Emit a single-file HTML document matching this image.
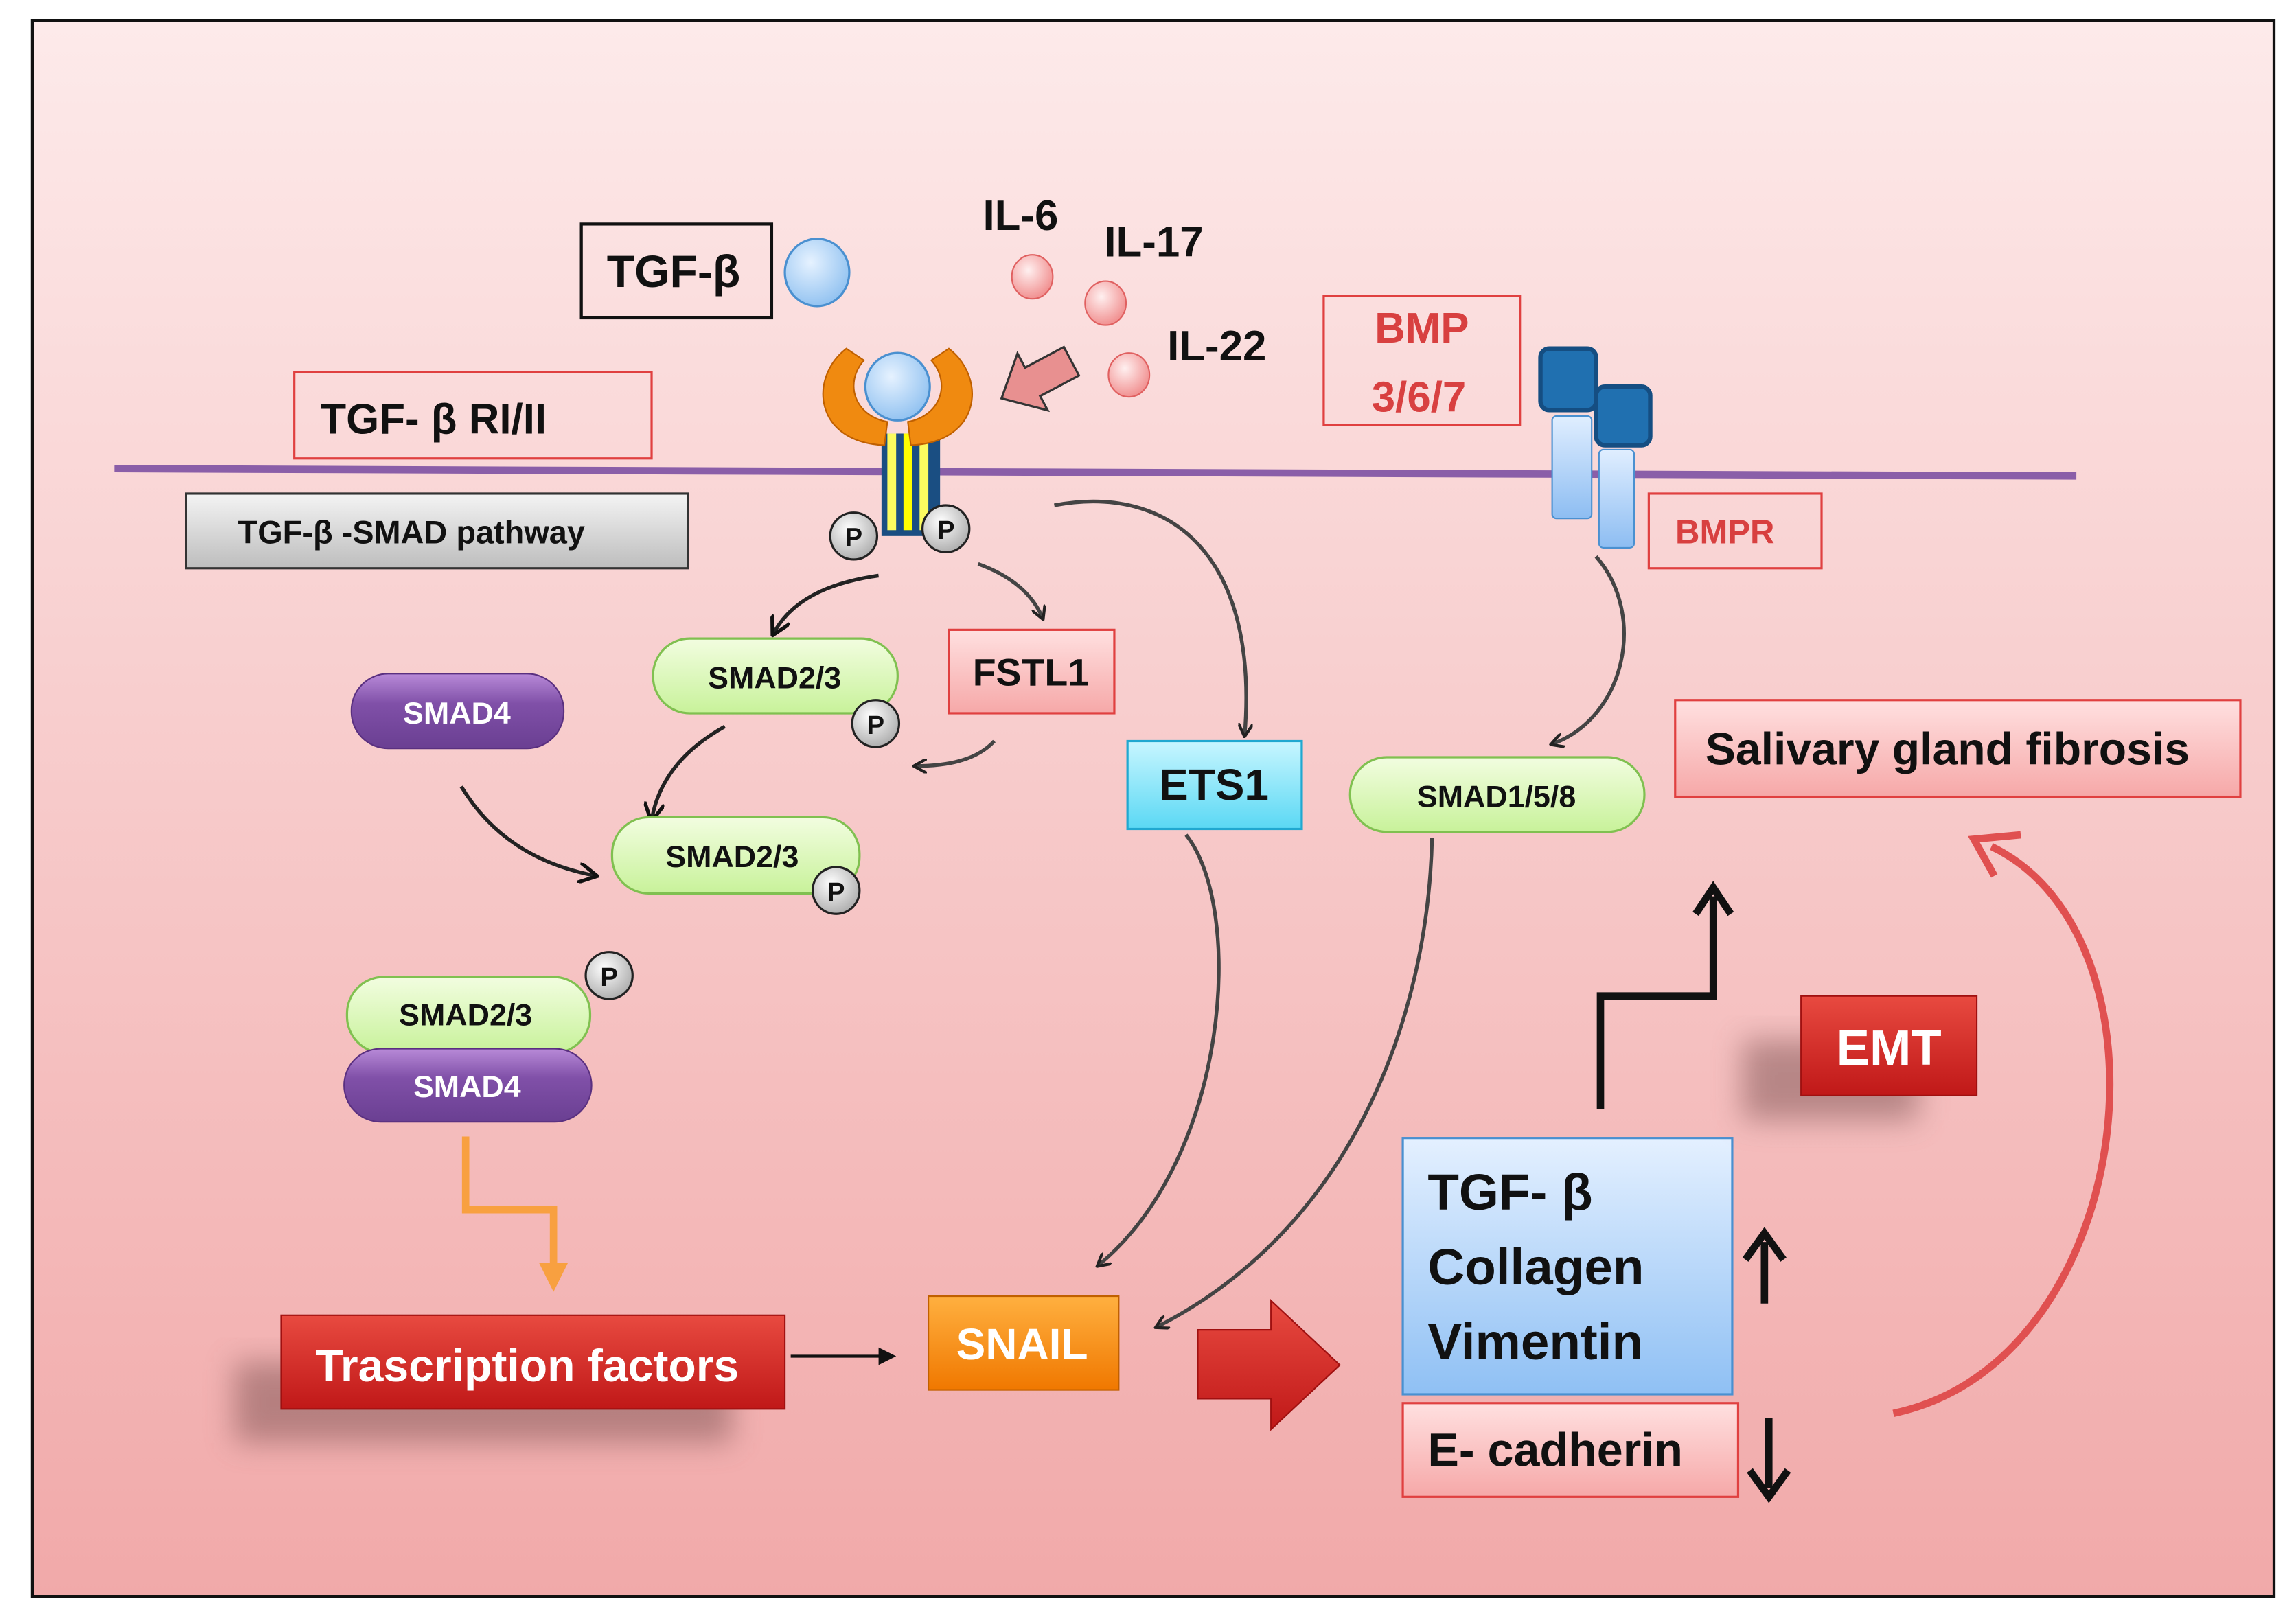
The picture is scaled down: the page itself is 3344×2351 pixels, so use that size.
<!DOCTYPE html>
<html><head><meta charset="utf-8"><style>html,body{margin:0;padding:0;background:#fff}svg{display:block}text{font-family:"Liberation Sans",sans-serif;font-weight:bold}</style></head>
<body>
<svg width="3344" height="2351" viewBox="0 0 1568 1102" preserveAspectRatio="none" xmlns="http://www.w3.org/2000/svg">
<defs>
<linearGradient id="bg" x1="0" y1="0" x2="0" y2="1"><stop offset="0" stop-color="#fdeaea"/><stop offset="1" stop-color="#f1a9a9"/></linearGradient>
<linearGradient id="grn" x1="0" y1="0" x2="0" y2="1"><stop offset="0" stop-color="#f2fde0"/><stop offset="1" stop-color="#c8f29a"/></linearGradient>
<linearGradient id="pur" x1="0" y1="0" x2="0" y2="1"><stop offset="0" stop-color="#b88ad8"/><stop offset="0.4" stop-color="#8050a8"/><stop offset="1" stop-color="#6a3f92"/></linearGradient>
<radialGradient id="pg" cx="0.4" cy="0.35" r="0.7"><stop offset="0" stop-color="#fff"/><stop offset="1" stop-color="#aaa"/></radialGradient>
<radialGradient id="bl" cx="0.4" cy="0.35" r="0.7"><stop offset="0" stop-color="#e6f2ff"/><stop offset="1" stop-color="#8ec0f0"/></radialGradient>
<radialGradient id="pk" cx="0.4" cy="0.35" r="0.7"><stop offset="0" stop-color="#fff0f0"/><stop offset="1" stop-color="#f08a8a"/></radialGradient>
<linearGradient id="red" x1="0" y1="0" x2="0" y2="1"><stop offset="0" stop-color="#e84a40"/><stop offset="1" stop-color="#c01818"/></linearGradient>
<linearGradient id="org" x1="0" y1="0" x2="0" y2="1"><stop offset="0" stop-color="#ffb040"/><stop offset="1" stop-color="#f07800"/></linearGradient>
<linearGradient id="gry" x1="0" y1="0" x2="0" y2="1"><stop offset="0" stop-color="#f4f4f4"/><stop offset="1" stop-color="#bdbdbd"/></linearGradient>
<linearGradient id="bbox" x1="0" y1="0" x2="0" y2="1"><stop offset="0" stop-color="#e4f0ff"/><stop offset="1" stop-color="#8fc0f4"/></linearGradient>
<linearGradient id="pbox" x1="0" y1="0" x2="0" y2="1"><stop offset="0" stop-color="#ffe0e0"/><stop offset="1" stop-color="#f6a8a8"/></linearGradient>
<linearGradient id="cy" x1="0" y1="0" x2="0" y2="1"><stop offset="0" stop-color="#c8f6ff"/><stop offset="1" stop-color="#5ad8f4"/></linearGradient>
<linearGradient id="lb" x1="0" y1="0" x2="0" y2="1"><stop offset="0" stop-color="#e0eeff"/><stop offset="1" stop-color="#8dbdf2"/></linearGradient>
<marker id="ah" markerWidth="10" markerHeight="10" refX="8" refY="5" orient="auto" markerUnits="userSpaceOnUse"><path d="M0,0 L9,5 L0,10" fill="none" stroke="#222" stroke-width="2"/></marker>
<marker id="ah2" markerWidth="14" markerHeight="14" refX="12" refY="7" orient="auto" markerUnits="userSpaceOnUse"><path d="M0,0 L13,7 L0,14" fill="none" stroke="#111" stroke-width="2.5"/></marker>
<filter id="sh" x="-30%" y="-30%" width="160%" height="180%"><feGaussianBlur stdDeviation="10"/></filter>
</defs>
<rect x="0" y="0" width="1568" height="1102" fill="#fff"/>
<rect x="22" y="14" width="1531" height="1076" fill="url(#bg)" stroke="#111" stroke-width="2"/>

<line x1="78" y1="320" x2="1418" y2="325" stroke="#8a5ea8" stroke-width="5"/>

<rect x="397" y="153" width="130" height="64" fill="none" stroke="#111" stroke-width="2"/>
<text x="460" y="196" font-size="31" text-anchor="middle" fill="#111">TGF-β</text>
<ellipse cx="558" cy="186" rx="22" ry="23" fill="url(#bl)" stroke="#4a90d0" stroke-width="1.5"/>

<text x="697" y="157" font-size="29" text-anchor="middle" fill="#111">IL-6</text>
<text x="788" y="175" font-size="29" text-anchor="middle" fill="#111">IL-17</text>
<text x="831" y="246" font-size="29" text-anchor="middle" fill="#111">IL-22</text>
<ellipse cx="705" cy="189" rx="14" ry="15" fill="url(#pk)" stroke="#e06060"/>
<ellipse cx="755" cy="207" rx="14" ry="15" fill="url(#pk)" stroke="#e06060"/>
<ellipse cx="771" cy="256" rx="14" ry="15" fill="url(#pk)" stroke="#e06060"/>
<path transform="translate(684,272) rotate(-28)" d="M0,0 L24,-22 L24,-11 L54,-11 L54,11 L24,11 L24,22 Z" fill="#e89090" stroke="#333" stroke-width="1.5"/>

<rect x="201" y="254" width="244" height="59" fill="none" stroke="#e04040" stroke-width="1.5"/>
<text x="296" y="296" font-size="29" text-anchor="middle" fill="#111">TGF- β RI/II</text>

<rect x="127" y="337" width="343" height="51" fill="url(#gry)" stroke="#333" stroke-width="1.5"/>
<text x="281" y="371" font-size="22" text-anchor="middle" fill="#111">TGF-β -SMAD pathway</text>

<rect x="602" y="296" width="40" height="70" fill="#1a4e82"/>
<rect x="606" y="296" width="6" height="66" fill="#fbfb60"/>
<rect x="617" y="296" width="6" height="66" fill="#ffff00"/>
<rect x="628" y="296" width="6" height="66" fill="#fbfb60"/>
<path d="M578,238 C552,258 556,302 604,304 L606,288 C584,284 576,262 590,246 Z" fill="#f08a10" stroke="#c06000"/>
<path d="M648,238 C674,258 670,302 622,304 L620,288 C642,284 650,262 636,246 Z" fill="#f08a10" stroke="#c06000"/>
<ellipse cx="613" cy="264" rx="22" ry="23" fill="url(#bl)" stroke="#4a90d0" stroke-width="1.5"/>
<g font-size="18" text-anchor="middle" fill="#111">
<circle cx="583" cy="366" r="16" fill="url(#pg)" stroke="#222" stroke-width="1.5"/><text x="583" y="373">P</text>
<circle cx="646" cy="361" r="16" fill="url(#pg)" stroke="#222" stroke-width="1.5"/><text x="646" y="368">P</text>
</g>

<rect x="904" y="202" width="134" height="88" fill="none" stroke="#e04040" stroke-width="1.5"/>
<text x="971" y="234" font-size="29" text-anchor="middle" fill="#d84040" font-weight="normal">BMP</text>
<text x="969" y="281" font-size="29" text-anchor="middle" fill="#d84040" font-weight="normal">3/6/7</text>
<rect x="1060" y="284" width="27" height="70" rx="3" fill="url(#lb)" stroke="#4a90d0"/>
<rect x="1092" y="307" width="24" height="67" rx="3" fill="url(#lb)" stroke="#4a90d0"/>
<rect x="1052" y="238" width="38" height="42" rx="6" fill="#2070b0" stroke="#154e82" stroke-width="3"/>
<rect x="1090" y="264" width="37" height="40" rx="6" fill="#2070b0" stroke="#154e82" stroke-width="3"/>
<rect x="1126" y="337" width="118" height="51" fill="none" stroke="#e04040" stroke-width="1.5"/>
<text x="1178" y="371" font-size="23" text-anchor="middle" fill="#d84040">BMPR</text>

<g fill="none" stroke="#222" stroke-width="2.5">
<path d="M600,393 C565,398 540,410 528,433" marker-end="url(#ah2)"/>
<path d="M668,385 C690,393 705,405 712,422" stroke="#444" marker-end="url(#ah)"/>
<path d="M720,345 C800,330 860,380 850,502" stroke="#444" marker-end="url(#ah)"/>
<path d="M679,506 C668,518 650,523 625,523" stroke="#444" marker-end="url(#ah)"/>
<path d="M495,496 C470,510 450,530 445,560" marker-end="url(#ah2)"/>
<path d="M315,537 C335,570 365,590 407,598" marker-end="url(#ah2)"/>
<path d="M1090,380 C1125,420 1110,490 1060,508" stroke="#444" marker-end="url(#ah)"/>
<path d="M810,570 C850,620 840,790 750,864" stroke="#444" marker-end="url(#ah)"/>
<path d="M978,572 C975,700 920,840 790,906" stroke="#444" marker-end="url(#ah)"/>
</g>

<g font-size="21" text-anchor="middle">
<rect x="446" y="436" width="167" height="51" rx="25" fill="url(#grn)" stroke="#80c050" stroke-width="1.5"/>
<text x="529" y="470" fill="#111">SMAD2/3</text>
<circle cx="598" cy="494" r="16" fill="url(#pg)" stroke="#222" stroke-width="1.5"/><text x="598" y="501" font-size="18" fill="#111">P</text>
<rect x="240" y="460" width="145" height="51" rx="25" fill="url(#pur)" stroke="#5a3080"/>
<text x="312" y="494" fill="#fff">SMAD4</text>
<rect x="418" y="558" width="169" height="52" rx="25" fill="url(#grn)" stroke="#80c050" stroke-width="1.5"/>
<text x="500" y="592" fill="#111">SMAD2/3</text>
<circle cx="571" cy="608" r="16" fill="url(#pg)" stroke="#222" stroke-width="1.5"/><text x="571" y="615" font-size="18" fill="#111">P</text>
<circle cx="416" cy="666" r="16" fill="url(#pg)" stroke="#222" stroke-width="1.5"/><text x="416" y="673" font-size="18" fill="#111">P</text>
<rect x="237" y="667" width="166" height="52" rx="25" fill="url(#grn)" stroke="#80c050" stroke-width="1.5"/>
<text x="318" y="700" fill="#111">SMAD2/3</text>
<rect x="235" y="716" width="169" height="50" rx="25" fill="url(#pur)" stroke="#5a3080"/>
<text x="319" y="749" fill="#fff">SMAD4</text>
<rect x="922" y="517" width="201" height="51" rx="25" fill="url(#grn)" stroke="#80c050" stroke-width="1.5"/>
<text x="1022" y="551" fill="#111">SMAD1/5/8</text>
</g>

<rect x="648" y="430" width="113" height="57" fill="url(#pbox)" stroke="#e04040" stroke-width="1.5"/>
<text x="704" y="468" font-size="26" text-anchor="middle" fill="#111">FSTL1</text>
<rect x="770" y="506" width="119" height="60" fill="url(#cy)" stroke="#20a8d0" stroke-width="1.5"/>
<text x="829" y="546" font-size="30" text-anchor="middle" fill="#111">ETS1</text>

<path d="M318,776 L318,826 L378,826 L378,870" fill="none" stroke="#f8a040" stroke-width="5"/>
<path d="M368,862 L378,882 L388,862 Z" fill="#f8a040"/>

<rect x="160" y="930" width="340" height="55" fill="#7a5050" opacity="0.5" filter="url(#sh)"/>
<rect x="192" y="898" width="344" height="64" fill="url(#red)" stroke="#a01010"/>
<text x="360" y="943" font-size="31" text-anchor="middle" fill="#fff">Trascription  factors</text>
<line x1="540" y1="926" x2="605" y2="926" stroke="#111" stroke-width="2"/>
<path d="M600,920 L612,926 L600,932 Z" fill="#111"/>

<rect x="634" y="885" width="130" height="64" fill="url(#org)" stroke="#c06000"/>
<text x="698" y="928" font-size="30" text-anchor="middle" fill="#fff">SNAIL</text>

<path d="M818,908 L868,908 L868,888 L915,932 L868,976 L868,955 L818,955 Z" fill="url(#red)" stroke="#a01010"/>

<rect x="958" y="777" width="225" height="175" fill="url(#bbox)" stroke="#4a90d0" stroke-width="1.5"/>
<text x="975" y="826" font-size="35" fill="#111">TGF- β</text>
<text x="975" y="877" font-size="35" fill="#111">Collagen</text>
<text x="975" y="928" font-size="35" fill="#111">Vimentin</text>
<rect x="958" y="958" width="229" height="64" fill="url(#pbox)" stroke="#e04040" stroke-width="1.5"/>
<text x="975" y="1001" font-size="32" fill="#111">E- cadherin</text>
<g stroke="#111" stroke-width="5" fill="none">
<line x1="1205" y1="890" x2="1205" y2="848"/><path d="M1192,860 L1205,842 L1218,860"/>
<line x1="1208" y1="968" x2="1208" y2="1016"/><path d="M1195,1004 L1208,1022 L1221,1004"/>
<path d="M1093,757 L1093,680 L1170,680 L1170,612"/><path d="M1158,624 L1170,606 L1182,624"/>
</g>

<rect x="1190" y="710" width="120" height="55" fill="#7a5050" opacity="0.5" filter="url(#sh)"/>
<rect x="1230" y="680" width="120" height="68" fill="url(#red)" stroke="#a01010"/>
<text x="1290" y="727" font-size="34" text-anchor="middle" fill="#fff">EMT</text>

<rect x="1144" y="478" width="386" height="66" fill="url(#pbox)" stroke="#e04040" stroke-width="1.5"/>
<text x="1330" y="522" font-size="31" text-anchor="middle" fill="#111">Salivary gland  fibrosis</text>

<path d="M1293,965 C1460,930 1490,640 1360,578" fill="none" stroke="#e05050" stroke-width="5"/>
<path d="M1380,570 L1348,573 L1362,598" fill="none" stroke="#e05050" stroke-width="5"/>
</svg>
</body></html>
